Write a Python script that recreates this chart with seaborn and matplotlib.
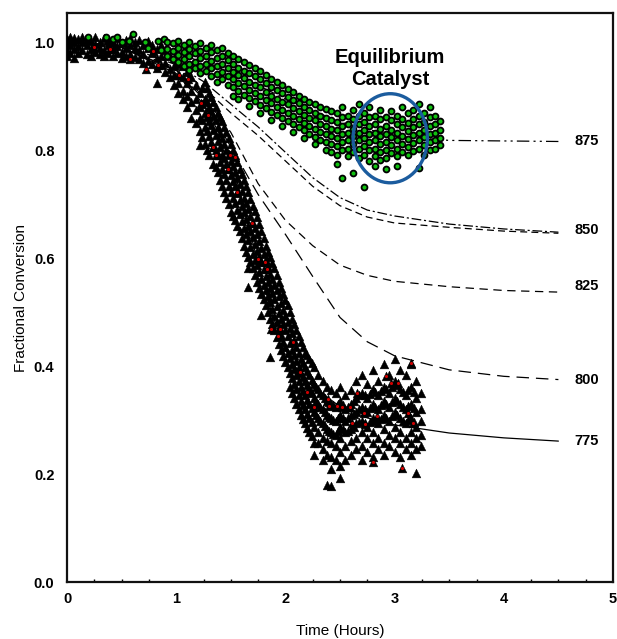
import pandas as pd
import matplotlib
matplotlib.use("Agg")
import matplotlib.pyplot as plt
from matplotlib.patches import Ellipse
from matplotlib.ticker import MultipleLocator
import seaborn as sns

# ---- model curves (time in hours, fractional conversion) ----
t_grid = [0, 0.5, 1.0, 1.25, 1.5, 1.75, 2.0, 2.25, 2.5, 2.75, 3.0, 3.5, 4.0, 4.5]
t_775 = [0, 0.5, 1.0, 1.25, 1.5, 1.625, 1.75, 1.875, 2.0, 2.125, 2.25, 2.5, 2.75, 3.0, 3.5, 4.0, 4.5]
v_775 = [1.0, 0.99, 0.942, 0.885, 0.791, 0.686, 0.592, 0.498, 0.430, 0.388, 0.362, 0.325, 0.304, 0.291, 0.276, 0.267, 0.261]
v_800 = [1.0, 0.99, 0.948, 0.895, 0.806, 0.718, 0.644, 0.566, 0.49, 0.445, 0.419, 0.393, 0.381, 0.375]
v_825 = [1.0, 0.99, 0.948, 0.9, 0.833, 0.738, 0.67, 0.623, 0.587, 0.568, 0.557, 0.547, 0.54, 0.537]
v_850a = [1.0, 0.995, 0.958, 0.927, 0.885, 0.843, 0.796, 0.749, 0.712, 0.689, 0.678, 0.663, 0.654, 0.648]
v_850b = [1.0, 0.99, 0.953, 0.916, 0.869, 0.827, 0.78, 0.733, 0.697, 0.676, 0.665, 0.657, 0.65, 0.646]
t_875 = [0, 0.5, 1.0, 1.5, 2.0, 2.5, 3.0, 3.5, 4.0, 4.5]
v_875 = [1.0, 0.995, 0.98, 0.945, 0.895, 0.852, 0.826, 0.818, 0.817, 0.816]

curve_labels = ["775", "800", "825", "850", "875"]
label_y = [0.261, 0.374, 0.548, 0.652, 0.817]

# ---- fresh-catalyst data (black triangles), grouped by time column ----
black_cols = [
    (0.00, [1.0, 0.985, 1.005, 0.975]), (0.03, [0.995, 1.01, 0.98]),
    (0.06, [1.0, 0.988, 0.97, 1.008]), (0.10, [0.992, 1.005, 0.98]),
    (0.14, [1.0, 0.985, 1.01]), (0.18, [0.995, 0.978, 1.006]),
    (0.22, [1.002, 0.988, 0.975]), (0.26, [0.996, 0.982, 1.01]),
    (0.30, [1.0, 0.99, 0.978]), (0.34, [1.008, 0.985, 0.975]),
    (0.38, [0.995, 0.98, 1.004]), (0.42, [1.0, 0.988, 0.975]),
    (0.46, [0.993, 1.008, 0.98]), (0.50, [0.998, 0.982, 0.97]),
    (0.54, [1.004, 0.99, 0.975]), (0.58, [0.995, 0.978, 1.008]),
    (0.62, [0.99, 0.972, 1.0]), (0.66, [0.985, 1.004, 0.968]),
    (0.70, [0.995, 0.978, 0.962]), (0.74, [0.99, 0.965, 1.002]),
    (0.78, [0.98, 0.995, 0.96]), (0.82, [0.988, 0.97, 0.952, 0.924]),
    (0.86, [0.975, 0.995, 0.958]), (0.90, [0.985, 0.962, 0.945]),
    (0.94, [0.975, 0.95, 0.935]), (0.98, [0.97, 0.955, 0.94, 0.92]),
    (1.02, [0.96, 0.94, 0.925, 0.905]), (1.06, [0.955, 0.935, 0.91, 0.895]),
    (1.10, [0.945, 0.925, 0.90, 0.88]), (1.14, [0.935, 0.91, 0.89, 0.86]),
    (1.18, [0.92, 0.895, 0.875, 0.85]), (1.22, [0.905, 0.88, 0.86, 0.835, 0.81]),
    (1.24, [0.915, 0.885, 0.855, 0.825]),
    (1.26, [0.927, 0.895, 0.869, 0.843, 0.812]), (1.28, [0.915, 0.89, 0.862, 0.835, 0.80]),
    (1.30, [0.906, 0.880, 0.854, 0.827, 0.791]), (1.32, [0.898, 0.872, 0.846, 0.815]),
    (1.34, [0.890, 0.864, 0.838, 0.806, 0.775]), (1.36, [0.88, 0.855, 0.828, 0.80, 0.768]),
    (1.38, [0.869, 0.843, 0.817, 0.791, 0.759]), (1.40, [0.862, 0.832, 0.805, 0.778, 0.745]),
    (1.42, [0.854, 0.822, 0.791, 0.765, 0.733]), (1.44, [0.843, 0.812, 0.785, 0.755, 0.722]),
    (1.46, [0.833, 0.801, 0.775, 0.744, 0.712]), (1.48, [0.822, 0.792, 0.765, 0.733, 0.70]),
    (1.50, [0.812, 0.780, 0.754, 0.723, 0.686]), (1.52, [0.80, 0.77, 0.743, 0.712, 0.678]),
    (1.54, [0.791, 0.759, 0.733, 0.702, 0.670]), (1.56, [0.778, 0.748, 0.72, 0.69, 0.66]),
    (1.58, [0.765, 0.738, 0.707, 0.681, 0.650]), (1.60, [0.755, 0.725, 0.697, 0.668, 0.637]),
    (1.62, [0.744, 0.712, 0.686, 0.655, 0.623]), (1.64, [0.733, 0.702, 0.673, 0.645, 0.612]),
    (1.66, [0.723, 0.691, 0.660, 0.634, 0.602, 0.581, 0.546]), (1.68, [0.71, 0.678, 0.65, 0.62, 0.592]),
    (1.70, [0.697, 0.665, 0.639, 0.608, 0.581]), (1.72, [0.687, 0.655, 0.626, 0.597, 0.568]),
    (1.74, [0.676, 0.644, 0.613, 0.587, 0.555]), (1.76, [0.663, 0.631, 0.602, 0.574, 0.545]),
    (1.78, [0.650, 0.618, 0.592, 0.561, 0.534, 0.494]), (1.80, [0.637, 0.607, 0.579, 0.55, 0.524]),
    (1.82, [0.623, 0.597, 0.566, 0.540, 0.514]), (1.84, [0.612, 0.584, 0.556, 0.53, 0.50]),
    (1.86, [0.602, 0.571, 0.545, 0.519, 0.487, 0.417]), (1.88, [0.591, 0.561, 0.535, 0.505, 0.477]),
    (1.90, [0.581, 0.550, 0.524, 0.492, 0.466]), (1.92, [0.568, 0.54, 0.511, 0.482, 0.453]),
    (1.94, [0.555, 0.529, 0.498, 0.471, 0.440]), (1.96, [0.545, 0.516, 0.488, 0.458, 0.43]),
    (1.98, [0.534, 0.503, 0.477, 0.445, 0.419]), (2.00, [0.523, 0.493, 0.466, 0.435, 0.408]),
    (2.02, [0.513, 0.482, 0.456, 0.425, 0.398]), (2.04, [0.50, 0.471, 0.443, 0.415, 0.388, 0.362]),
    (2.06, [0.487, 0.461, 0.430, 0.404, 0.377, 0.351]), (2.08, [0.477, 0.448, 0.42, 0.394, 0.367, 0.34]),
    (2.10, [0.466, 0.435, 0.409, 0.383, 0.357, 0.330]), (2.12, [0.455, 0.425, 0.398, 0.372, 0.346, 0.32]),
    (2.14, [0.445, 0.414, 0.388, 0.362, 0.336, 0.310]), (2.16, [0.435, 0.405, 0.38, 0.354, 0.328, 0.302]),
    (2.18, [0.425, 0.398, 0.372, 0.346, 0.320, 0.294]), (2.20, [0.42, 0.39, 0.364, 0.338, 0.312, 0.286]),
    (2.22, [0.414, 0.383, 0.357, 0.330, 0.304, 0.278]), (2.24, [0.405, 0.375, 0.35, 0.323, 0.296, 0.27]),
    (2.26, [0.398, 0.367, 0.341, 0.315, 0.288, 0.257, 0.236]), (2.28, [0.362, 0.336, 0.31]),
    (2.30, [0.383, 0.357, 0.330, 0.304, 0.278, 0.257]), (2.32, [0.35, 0.325, 0.299]),
    (2.34, [0.372, 0.346, 0.320, 0.294, 0.267, 0.246, 0.226]), (2.36, [0.341, 0.315, 0.289]),
    (2.38, [0.362, 0.336, 0.309, 0.283, 0.262, 0.236, 0.18]), (2.40, [0.333, 0.306, 0.28]),
    (2.42, [0.356, 0.330, 0.304, 0.278, 0.257, 0.231, 0.210, 0.178]), (2.44, [0.328, 0.3, 0.275]),
    (2.46, [0.351, 0.325, 0.299, 0.273, 0.252, 0.226]), (2.48, [0.33, 0.304, 0.28]),
    (2.50, [0.362, 0.336, 0.309, 0.288, 0.267, 0.241, 0.215, 0.193]), (2.525, [0.328, 0.304, 0.283]),
    (2.55, [0.346, 0.320, 0.299, 0.278, 0.252, 0.226]), (2.575, [0.325, 0.304, 0.28]),
    (2.60, [0.356, 0.330, 0.309, 0.283, 0.262, 0.236]), (2.625, [0.336, 0.312, 0.288]),
    (2.65, [0.372, 0.341, 0.315, 0.294, 0.267, 0.246]), (2.675, [0.346, 0.32, 0.296]),
    (2.70, [0.383, 0.351, 0.325, 0.299, 0.278, 0.252, 0.226]), (2.725, [0.346, 0.32, 0.294]),
    (2.75, [0.367, 0.341, 0.315, 0.288, 0.267, 0.241]), (2.775, [0.349, 0.323, 0.296]),
    (2.80, [0.393, 0.357, 0.330, 0.304, 0.278, 0.257, 0.231]), (2.825, [0.352, 0.325, 0.299]),
    (2.85, [0.372, 0.346, 0.320, 0.294, 0.267, 0.246]), (2.875, [0.354, 0.328, 0.302]),
    (2.90, [0.404, 0.362, 0.336, 0.309, 0.283, 0.257, 0.236]), (2.925, [0.357, 0.33, 0.304]),
    (2.95, [0.383, 0.351, 0.325, 0.299, 0.273, 0.252]), (2.975, [0.362, 0.333, 0.307]),
    (3.00, [0.414, 0.372, 0.341, 0.315, 0.288, 0.267, 0.241]), (3.025, [0.365, 0.336, 0.31]),
    (3.05, [0.393, 0.357, 0.330, 0.304, 0.278, 0.257, 0.231]), (3.075, [0.352, 0.325, 0.299]),
    (3.10, [0.383, 0.346, 0.320, 0.294, 0.267, 0.246]), (3.125, [0.355, 0.326, 0.3]),
    (3.15, [0.404, 0.362, 0.330, 0.304, 0.278, 0.257, 0.236]), (3.175, [0.352, 0.323, 0.296]),
    (3.20, [0.372, 0.341, 0.315, 0.288, 0.267, 0.246, 0.202]),
    (3.24, [0.351, 0.320, 0.299, 0.273, 0.252]),
]

# points of the same run drawn with a red centre
red_t = [0.25, 0.39, 0.58, 0.72, 0.79, 0.83, 1.03, 1.11, 1.23, 1.29, 1.34, 1.36, 1.49, 1.54, 1.47,
         1.56, 1.69, 1.75, 1.81, 1.83, 1.87, 1.95, 1.93, 2.07, 2.13, 2.20, 2.39, 2.26, 2.40, 2.47,
         2.52, 2.59, 2.66, 2.61, 2.72, 2.73, 2.84, 2.92, 2.97, 3.03, 3.15, 3.12, 3.17, 2.80, 3.07]
red_v = [0.991, 0.987, 0.969, 0.95, 0.983, 0.957, 0.939, 0.931, 0.887, 0.865, 0.806, 0.791, 0.791, 0.787, 0.765,
         0.722, 0.665, 0.598, 0.593, 0.580, 0.469, 0.469, 0.456, 0.444, 0.389, 0.352, 0.339, 0.324, 0.326, 0.326,
         0.324, 0.324, 0.35, 0.294, 0.313, 0.293, 0.307, 0.381, 0.369, 0.369, 0.406, 0.313, 0.294, 0.222, 0.211]

# ---- equilibrium-catalyst data (green dots) ----
green_cols = [
    (0.19, [1.01]), (0.36, [1.01]), (0.42, [1.005]), (0.46, [1.01]), (0.50, [1.0]),
    (0.57, [1.003]), (0.60, [1.015]), (0.71, [1.0]), (0.74, [0.99]), (0.83, [1.002]),
    (0.86, [0.985]), (0.89, [1.005]),
    (0.92, [1.0, 0.988, 0.974]), (0.97, [0.998, 0.984, 0.969]),
    (1.02, [1.002, 0.99, 0.977, 0.963]), (1.07, [0.995, 0.981, 0.969, 0.956]),
    (1.12, [1.0, 0.987, 0.974, 0.96, 0.948]), (1.17, [0.992, 0.979, 0.964, 0.953]),
    (1.22, [0.998, 0.984, 0.971, 0.956, 0.942]), (1.27, [0.99, 0.975, 0.96, 0.947]),
    (1.32, [0.995, 0.981, 0.966, 0.952, 0.937]), (1.37, [0.985, 0.971, 0.956, 0.941, 0.927]),
    (1.42, [0.99, 0.974, 0.96, 0.945, 0.932]), (1.47, [0.98, 0.967, 0.952, 0.937, 0.921]),
    (1.52, [0.975, 0.96, 0.945, 0.932, 0.916, 0.9]), (1.57, [0.968, 0.953, 0.939, 0.924, 0.91, 0.895]),
    (1.62, [0.963, 0.947, 0.933, 0.918, 0.903]), (1.67, [0.958, 0.942, 0.927, 0.911, 0.897, 0.882]),
    (1.72, [0.952, 0.937, 0.921, 0.905, 0.891]), (1.77, [0.947, 0.932, 0.916, 0.9, 0.884, 0.869]),
    (1.82, [0.939, 0.924, 0.908, 0.893, 0.878]), (1.87, [0.932, 0.916, 0.901, 0.887, 0.871, 0.856]),
    (1.92, [0.927, 0.911, 0.895, 0.88, 0.865]), (1.97, [0.921, 0.905, 0.89, 0.874, 0.859, 0.844]),
    (2.02, [0.914, 0.899, 0.885, 0.869, 0.854]), (2.07, [0.908, 0.893, 0.878, 0.863, 0.848, 0.834]),
    (2.12, [0.9, 0.887, 0.872, 0.857, 0.842]), (2.17, [0.895, 0.88, 0.865, 0.85, 0.837, 0.823]),
    (2.22, [0.89, 0.874, 0.859, 0.844, 0.829]), (2.27, [0.885, 0.869, 0.855, 0.84, 0.825, 0.811]),
    (2.32, [0.879, 0.863, 0.849, 0.834, 0.819]), (2.37, [0.876, 0.859, 0.844, 0.83, 0.815, 0.801]),
    (2.42, [0.872, 0.855, 0.84, 0.826, 0.811, 0.796]), (2.47, [0.869, 0.853, 0.837, 0.822, 0.807, 0.791, 0.775]),
    (2.52, [0.88, 0.861, 0.844, 0.83, 0.815, 0.801, 0.749]), (2.57, [0.864, 0.848, 0.832, 0.818, 0.803, 0.789]),
    (2.62, [0.874, 0.857, 0.84, 0.826, 0.811, 0.796, 0.757]), (2.67, [0.885, 0.864, 0.848, 0.832, 0.818, 0.803, 0.786]),
    (2.72, [0.869, 0.853, 0.837, 0.822, 0.807, 0.791, 0.731]), (2.77, [0.88, 0.861, 0.844, 0.83, 0.815, 0.801, 0.78]),
    (2.82, [0.864, 0.848, 0.832, 0.818, 0.803, 0.789, 0.77]), (2.87, [0.874, 0.857, 0.84, 0.826, 0.811, 0.796, 0.781]),
    (2.92, [0.862, 0.845, 0.83, 0.815, 0.801, 0.786, 0.765]), (2.97, [0.872, 0.855, 0.838, 0.824, 0.809, 0.794]),
    (3.02, [0.864, 0.848, 0.832, 0.818, 0.803, 0.789, 0.77]), (3.07, [0.88, 0.858, 0.842, 0.827, 0.811, 0.797]),
    (3.12, [0.869, 0.851, 0.835, 0.82, 0.805, 0.791]), (3.17, [0.874, 0.858, 0.842, 0.828, 0.813, 0.799]),
    (3.22, [0.885, 0.864, 0.848, 0.832, 0.818, 0.803, 0.767]), (3.27, [0.869, 0.853, 0.838, 0.824, 0.809, 0.791]),
    (3.32, [0.88, 0.861, 0.844, 0.83, 0.815, 0.801]), (3.37, [0.864, 0.848, 0.832, 0.818, 0.803]),
    (3.42, [0.854, 0.838, 0.822, 0.809]),
]


def flatten(cols):
    rows = [(t, v) for t, vals in cols for v in vals]
    return pd.DataFrame(rows, columns=["time", "conv"])


black_df = pd.concat([flatten(black_cols), pd.DataFrame({"time": red_t, "conv": red_v})])
green_df = flatten(green_cols)
red_df = pd.DataFrame({"time": red_t, "conv": red_v})

sns.set_style("white")
plt.rcParams.update({
    "lines.scale_dashes": False,
    "text.color": "black",
    "axes.labelcolor": "black",
    "xtick.color": "black",
    "ytick.color": "black",
})
tick_font = dict(family=["Liberation Sans Narrow", "Liberation Sans"], weight="bold", size=10.5)

fig = plt.figure(figsize=(6.17, 6.39), dpi=100)
ax = fig.add_axes([67 / 617, 1 - 582 / 639, 546 / 617, 569 / 639])

# model curves (under the data)
lw = 0.9
sns.lineplot(x=t_775, y=v_775, ax=ax, color="black", linewidth=lw, zorder=1)
sns.lineplot(x=t_grid, y=v_800, ax=ax, color="black", linewidth=lw, linestyle=(0, (9, 5)), zorder=1)
sns.lineplot(x=t_grid, y=v_825, ax=ax, color="black", linewidth=lw, linestyle=(0, (6, 4)), zorder=1)
sns.lineplot(x=t_grid, y=v_850a, ax=ax, color="black", linewidth=lw, linestyle=(0, (7, 2, 1.5, 2)), zorder=1)
sns.lineplot(x=t_grid, y=v_850b, ax=ax, color="black", linewidth=lw, linestyle=(0, (5, 3)), zorder=1)
sns.lineplot(x=t_875, y=v_875, ax=ax, color="black", linewidth=lw,
             linestyle=(0, (9, 3, 1.5, 3, 1.5, 3)), zorder=1)

# data
sns.scatterplot(data=black_df, x="time", y="conv", ax=ax, marker="^", s=40,
                color="black", edgecolor="black", linewidth=0.3, zorder=3)
sns.scatterplot(data=red_df, x="time", y="conv", ax=ax, marker="o", s=5,
                color="#d00000", linewidth=0, zorder=4)
sns.scatterplot(data=green_df, x="time", y="conv", ax=ax, marker="o", s=18,
                color="#10c010", edgecolor="black", linewidth=1.3, zorder=5)

# curve temperature labels
for lab, yv in zip(curve_labels, label_y):
    ax.text(4.76, yv, lab, ha="center", va="center", **tick_font)

# annotation
ax.text(2.96, 0.951, "Equilibrium\nCatalyst", ha="center", va="center", color="black",
        fontsize=14.5, fontweight="bold", family="Liberation Sans", linespacing=1.25)
ax.add_patch(Ellipse((2.96, 0.822), width=0.68, height=0.165, fill=False,
                     edgecolor="#1b5c9e", linewidth=2.4, zorder=6))

ax.set_xlim(0, 5)
ax.set_ylim(0, 1.054)
ax.set_xticks([0, 1, 2, 3, 4, 5])
ax.set_xticklabels(["0", "1", "2", "3", "4", "5"], **tick_font)
ax.set_yticks([0, 0.2, 0.4, 0.6, 0.8, 1.0])
ax.set_yticklabels(["0.0", "0.2", "0.4", "0.6", "0.8", "1.0"], **tick_font)
ax.xaxis.set_minor_locator(MultipleLocator(0.25))
ax.tick_params(axis="both", which="major", direction="in", length=4, width=1, color="black")
ax.tick_params(axis="x", which="minor", direction="in", length=2.5, width=1, color="black", bottom=True)
ax.tick_params(axis="x", which="major", pad=7)
ax.tick_params(axis="y", which="major", pad=9)

for sp in ax.spines.values():
    sp.set_visible(True)
    sp.set_color("#111111")
    sp.set_linewidth(1.6)

ax.set_xlabel("Time (Hours)", fontsize=11, family="Liberation Sans")
ax.set_ylabel("Fractional Conversion", fontsize=11, family="Liberation Sans")
ax.xaxis.set_label_coords(0.5, -0.074)
ax.yaxis.set_label_coords(-0.072, 0.5)

fig.savefig("out.png", dpi=100)
